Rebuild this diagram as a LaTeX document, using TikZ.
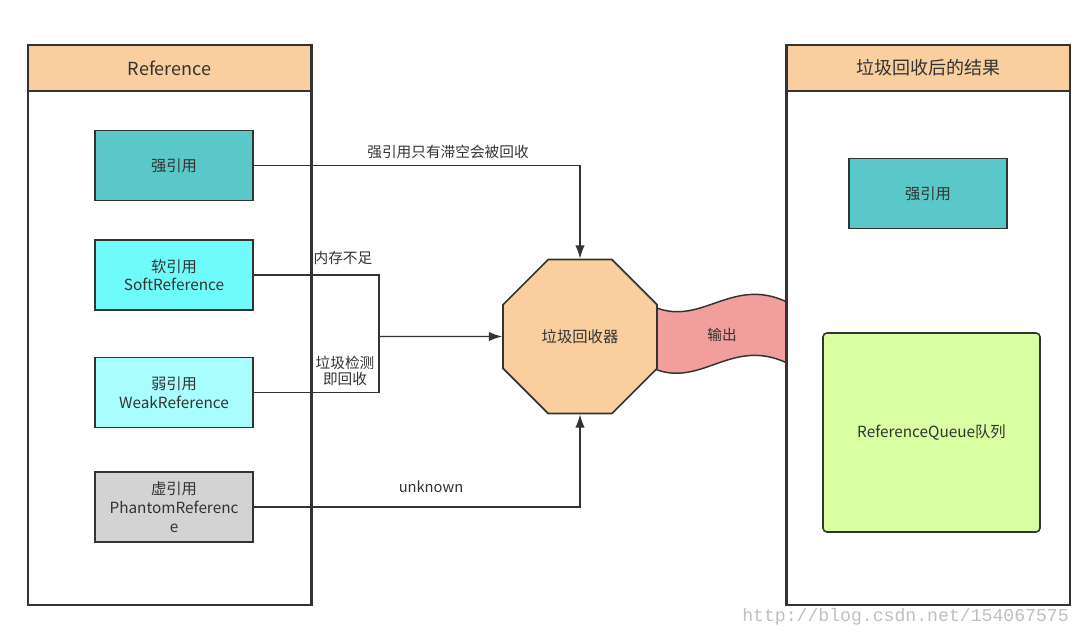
\documentclass[tikz,border=0pt]{standalone}
\usepackage{fontspec}
\setmainfont{Noto Sans CJK SC}
\newfontfamily\wmfont{Liberation Mono}
\usetikzlibrary{positioning, arrows.meta, shapes.geometric, calc}
\definecolor{ink}{HTML}{333333}
\definecolor{hdr}{HTML}{F9CF9F}
\definecolor{strongc}{HTML}{5AC8C8}
\definecolor{softc}{HTML}{70FBFB}
\definecolor{weakc}{HTML}{AAFDFD}
\definecolor{phanc}{HTML}{D3D3D3}
\definecolor{queuec}{HTML}{D8FFA0}
\definecolor{wavec}{HTML}{F19E9C}

\begin{document}
\begin{tikzpicture}[
  x=0.75pt, y=-0.75pt,
  every node/.style={text=ink},
  panel/.style={draw=ink, line width=1.2pt, fill=white, inner sep=0pt,
                minimum width=212.25pt, minimum height=420pt},
  head/.style={draw=ink, line width=1.2pt, fill=hdr, inner sep=0pt,
               minimum width=212.25pt, minimum height=34.5pt,
               font=\fontsize{13.5}{16}\selectfont},
  ref/.style={draw=ink, line width=1.2pt, inner sep=2pt, align=center,
              minimum width=118.5pt, minimum height=52.5pt,
              font=\fontsize{11.5}{14}\selectfont},
  lbl/.style={font=\fontsize{11}{14}\selectfont, inner sep=1pt},
  arr/.style={-{Latex[length=10pt, width=7pt]}, draw=ink, line width=1.1pt},
  ln/.style={draw=ink, line width=1.1pt}
]
\useasboundingbox (0,0) rectangle (1080,626);

% containers
\node[panel] (lpanel) at (169.5,325) {};
\node[head] (lhead) at (169.5,68) {Reference};
\node[panel] (rpanel) at (928.5,325) {};
\node[head] (rhead) at (928.5,68) {垃圾回收后的结果};

% reference kinds
\node[ref, fill=strongc] (strong) at (174,165.5) {强引用};
\node[ref, fill=softc] (soft) at (174,275) {软引用\\SoftReference};
\node[ref, fill=weakc] (weak) at (174,392.5) {弱引用\\WeakReference};
\node[ref, fill=phanc] (phantom) at (174,507) {虚引用\\PhantomReferenc\\e};

% collector and output
\draw[draw=ink, line width=1.1pt, fill=wavec]
  (650,305) .. controls (700,330) and (730,275) .. (787,302)
  -- (787,363) .. controls (730,336) and (700,391) .. (650,367) -- cycle;
\node[regular polygon, regular polygon sides=8, minimum size=125pt,
      inner sep=0pt, draw=ink, line width=1.2pt, fill=hdr,
      font=\fontsize{11.5}{14}\selectfont] (gc) at (580,336.5) {垃圾回收器};
\node[lbl] (out) at (722,335) {输出};
\draw[ink, line width=1.2pt] (rpanel.north west) -- (rpanel.south west);

% results
\node[ref, fill=strongc] (rstrong) at (928,193.5) {强引用};
\node[ref, fill=queuec, rounded corners=3pt, minimum width=162.75pt,
      minimum height=149.25pt] (queue) at (931.5,432.5) {ReferenceQueue队列};

% connectors
\coordinate (merge) at (379,336.5);
\draw[arr] (strong.east) -| (gc.north);
\draw[arr] (phantom.east) -| (gc.south);
\draw[ln] (soft.east) -| (merge) |- (weak.east);
\draw[arr] (merge) -- (gc.west);
\draw[ln] (lpanel.north east) -- (lpanel.south east);

% labels
\node[lbl] (l1) at (448,152) {强引用只有滞空会被回收};
\node[lbl, anchor=west] (l2) at (312,258) {内存不足};
\node[lbl, align=center] (l3) at (345,371) {垃圾检测\\[-2pt]即回收};
\node[lbl] (l4) at (431,487) {unknown};

% watermark
\node[anchor=west, text=black!25, inner sep=0pt,
      font=\wmfont\fontsize{13.6}{16}\selectfont] (wm) at (742,617)
  {http://blog.csdn.net/154067575};
\end{tikzpicture}
\end{document}
